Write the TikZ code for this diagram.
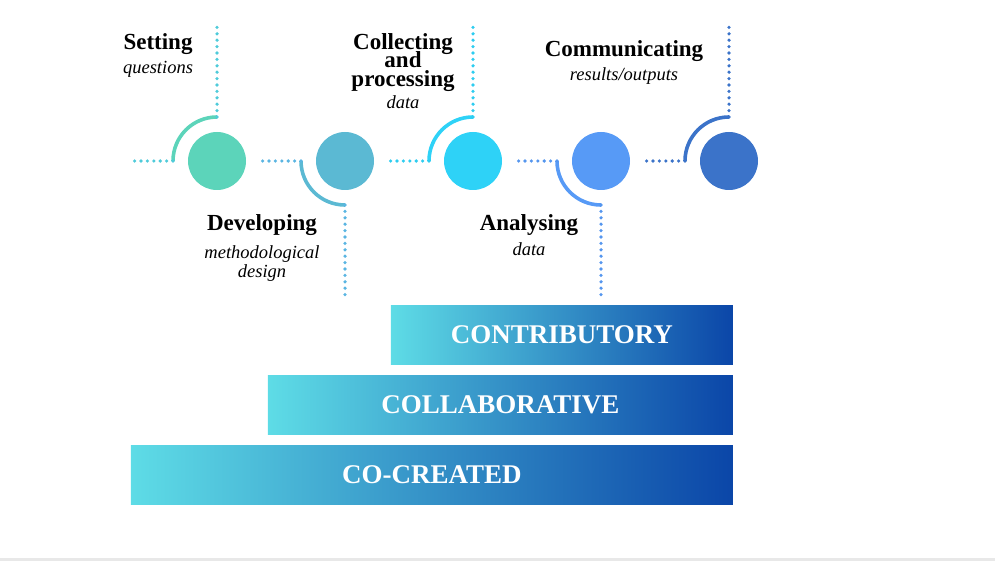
\documentclass[tikz,border=0pt]{standalone}
\usepackage{fontspec}
\setmainfont{Liberation Serif}
\usetikzlibrary{positioning, calc}

\definecolor{setc}{HTML}{5CD4BA}
\definecolor{devc}{HTML}{5BB9D3}
\definecolor{colc}{HTML}{2ED2F7}
\definecolor{anac}{HTML}{579AF6}
\definecolor{comc}{HTML}{3B73C9}
\definecolor{setd}{HTML}{4FCBDA}
\definecolor{devd}{HTML}{5AB5E2}
\definecolor{cold}{HTML}{2ECDF0}
\definecolor{anad}{HTML}{5596EE}
\definecolor{comd}{HTML}{3B73C9}
\definecolor{barleft}{HTML}{5EDCE6}
\definecolor{barmid}{HTML}{3A9ED3}
\definecolor{barright}{HTML}{0B46A8}

\newcommand{\headfont}{\fontsize{23}{18.5}\selectfont\bfseries\lineskiplimit=-30pt\relax}

\tikzset{
  stage/.style={circle, minimum size=58pt, inner sep=0pt},
  ring/.style={line width=3.6pt},
  dots/.style={line width=3.6pt, line cap=round, dash pattern=on 0pt off 6.4pt},
  head/.style={font=\headfont, align=center, inner sep=0pt},
  sub/.style={font=\fontsize{18.5}{19.5}\selectfont\itshape, align=center, inner sep=0pt},
  level/.style={minimum height=59pt, inner sep=0pt, left color=barleft, middle color=barmid, right color=barright, text=white, font=\fontsize{27}{27}\selectfont\bfseries}
}

\begin{document}
\begin{tikzpicture}[x=1pt, y=-1pt]
    \useasboundingbox (0,0) rectangle (995,561);
    \fill[black!9] (0,558) rectangle (995,561);

    % stages
    \node[stage, fill=setc] (set) at (217,161) {};
    \node[stage, fill=devc] (dev) at (345,161) {};
    \node[stage, fill=colc] (col) at (473,161) {};
    \node[stage, fill=anac] (ana) at (601,161) {};
    \node[stage, fill=comc] (com) at (729,161) {};

    % rings and dotted leads
    \draw[ring, setc] ([xshift=-44pt]set.center) coordinate (set w) arc[start angle=180, end angle=90, radius=44pt] coordinate (set n);
    \draw[dots, setd] (set w) -- ++(-42,0);
    \draw[dots, setd] (set n) -- ++(0,-90);

    \draw[ring, devc] ([xshift=-44pt]dev.center) coordinate (dev w) arc[start angle=180, end angle=270, radius=44pt] coordinate (dev s);
    \draw[dots, devd] (dev w) -- ++(-42,0);
    \draw[dots, devd] (dev s) -- ++(0,90);

    \draw[ring, colc] ([xshift=-44pt]col.center) coordinate (col w) arc[start angle=180, end angle=90, radius=44pt] coordinate (col n);
    \draw[dots, cold] (col w) -- ++(-42,0);
    \draw[dots, cold] (col n) -- ++(0,-90);

    \draw[ring, anac] ([xshift=-44pt]ana.center) coordinate (ana w) arc[start angle=180, end angle=270, radius=44pt] coordinate (ana s);
    \draw[dots, anad] (ana w) -- ++(-42,0);
    \draw[dots, anad] (ana s) -- ++(0,90);

    \draw[ring, comc] ([xshift=-44pt]com.center) coordinate (com w) arc[start angle=180, end angle=90, radius=44pt] coordinate (com n);
    \draw[dots, comd] (com w) -- ++(-42,0);
    \draw[dots, comd] (com n) -- ++(0,-90);

    % labels
    \node[head, anchor=base] (sett) at (158,50) {Setting};
    \node[sub, anchor=base] (setq) at (158,74) {questions};
    \node[head, anchor=north] (colt) at (403,33) {Collecting\\and\\processing};
    \node[sub, anchor=base] (coldata) at (403,109) {data};
    \node[head, anchor=base] (comt) at (624,57) {Communicating};
    \node[sub, anchor=base] (como) at (624,81) {results/outputs};
    \node[head, anchor=base] (devt) at (262,231) {Developing};
    \node[sub, anchor=north] (devm) at (262,245) {methodological\\design};
    \node[head, anchor=base] (anat) at (529,231) {Analysing};
    \node[sub, anchor=base] (anadata) at (529,255) {data};

    % levels
    \node[level, minimum width=342pt, anchor=north east] (contrib) at (733,305) {CONTRIBUTORY};
    \node[level, minimum width=465pt, anchor=north east] (collab) at (733,375) {COLLABORATIVE};
    \node[level, minimum width=602pt, anchor=north east] (cocreate) at (733,445) {CO-CREATED};
\end{tikzpicture}
\end{document}
